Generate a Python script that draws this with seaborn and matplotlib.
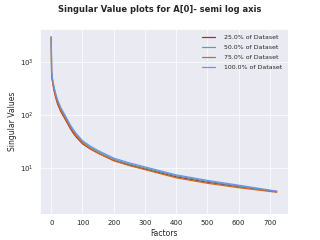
import matplotlib
matplotlib.use("Agg")
import matplotlib.pyplot as plt
import seaborn as sns
import pandas as pd

factors = [0, 1, 2, 3, 5, 7, 10, 15, 20, 30, 40, 50, 60, 70, 80, 100, 125, 150,
           200, 250, 300, 400, 500, 600, 722]
sv_25 = [2850, 620, 520, 455, 385, 330, 270, 205, 163, 118, 93, 73, 57, 46, 38.5,
         28.8, 23, 19.2, 14.0, 11.5, 9.7, 6.9, 5.45, 4.5, 3.66]
sv_50 = [2950, 670, 570, 500, 425, 368, 300, 230, 183, 131, 103, 80, 63, 51, 42,
         31.3, 24.6, 20.4, 14.7, 12.0, 10.1, 7.2, 5.65, 4.6, 3.62]
sv_75 = [2900, 640, 545, 478, 405, 350, 287, 218, 173, 125, 98, 77, 60, 48.5, 40.3,
         29.8, 23.4, 19.2, 13.8, 11.2, 9.4, 6.6, 5.2, 4.3, 3.52]
sv_100 = [3000, 700, 600, 530, 450, 390, 320, 245, 195, 140, 110, 86, 67, 54, 45,
          33, 26, 21.5, 15.5, 12.6, 10.6, 7.5, 5.9, 4.8, 3.7]
labels = ["25.0% of Dataset", "50.0% of Dataset", "75.0% of Dataset", "100.0% of Dataset"]
colors = ["brown", "cadetblue", "chocolate", "cornflowerblue"]
series = [sv_25, sv_50, sv_75, sv_100]

sns.set_theme(style="darkgrid", context="notebook",
              rc={"font.size": 10, "axes.labelsize": 11, "xtick.labelsize": 10,
                  "ytick.labelsize": 10, "legend.fontsize": 9, "lines.linewidth": 1.75})

fig, ax = plt.subplots(figsize=(6.4, 4.8), dpi=50)
for lab, col, vals in zip(labels, colors, series):
    df = pd.DataFrame({"Factors": factors, "Singular Values": vals})
    sns.lineplot(data=df, x="Factors", y="Singular Values", color=col, label=lab, ax=ax)
ax.set_yscale("log")
ax.set_ylim(1.4, 4200)
ax.legend(loc="upper right", frameon=False, handletextpad=1.4, handlelength=2.2,
          labelspacing=0.75)
fig.suptitle("Singular Value plots for A[0]- semi log axis", fontweight="bold", fontsize=12)
fig.savefig("out.png", dpi=50)
